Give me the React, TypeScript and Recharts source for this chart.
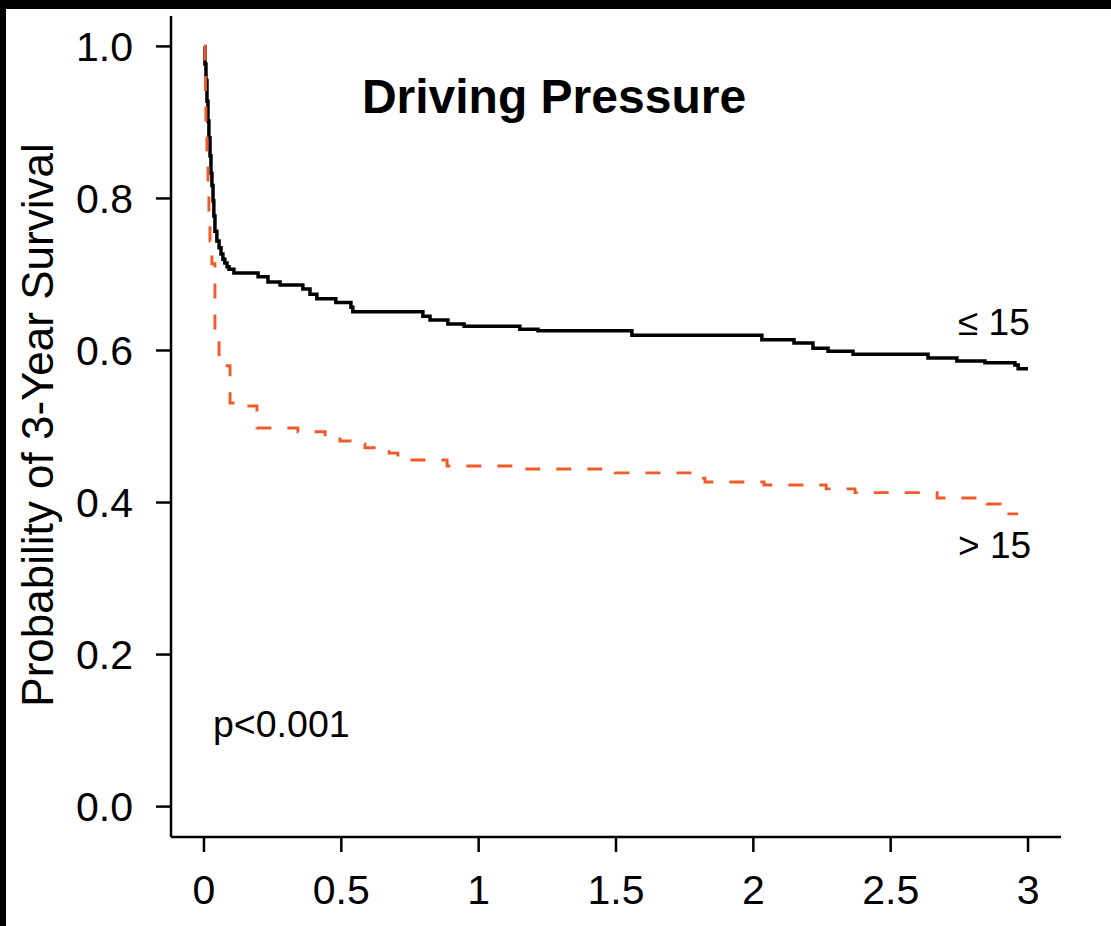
import React from 'react';
import { LineChart, Line, XAxis, YAxis } from 'recharts';

// Kaplan-Meier curves (years, survival probability)
const lowTimes = [0, 0.0036, 0.0073, 0.011, 0.0146, 0.018, 0.022, 0.0255, 0.029, 0.033, 0.036, 0.04, 0.047, 0.055, 0.062, 0.069, 0.076, 0.084, 0.091, 0.109, 0.197, 0.233, 0.277, 0.36, 0.386, 0.411, 0.48, 0.535, 0.542, 0.797, 0.823, 0.888, 0.947, 1.15, 1.216, 1.558, 2.031, 2.148, 2.217, 2.272, 2.363, 2.636, 2.741, 2.843, 2.952, 2.964, 3.0];
const lowSurv = [1.0, 0.977, 0.955, 0.928, 0.902, 0.88, 0.856, 0.833, 0.817, 0.797, 0.777, 0.757, 0.744, 0.735, 0.727, 0.72, 0.715, 0.71, 0.707, 0.702, 0.697, 0.69, 0.686, 0.681, 0.674, 0.668, 0.663, 0.657, 0.651, 0.645, 0.64, 0.635, 0.632, 0.628, 0.626, 0.62, 0.614, 0.61, 0.603, 0.599, 0.595, 0.59, 0.586, 0.584, 0.581, 0.576, 0.576];

const highTimes = [0, 0.0036, 0.0055, 0.0073, 0.011, 0.0146, 0.018, 0.022, 0.029, 0.04, 0.055, 0.066, 0.095, 0.157, 0.193, 0.342, 0.441, 0.495, 0.532, 0.586, 0.674, 0.706, 0.885, 1.15, 1.496, 1.795, 1.824, 2.039, 2.265, 2.37, 2.669, 2.851, 2.898, 2.964];
const highSurv = [1.0, 0.968, 0.928, 0.889, 0.849, 0.803, 0.77, 0.744, 0.714, 0.626, 0.586, 0.58, 0.531, 0.527, 0.498, 0.493, 0.489, 0.481, 0.477, 0.472, 0.465, 0.456, 0.448, 0.444, 0.439, 0.432, 0.427, 0.423, 0.418, 0.413, 0.406, 0.398, 0.385, 0.385];

const xTicks = [0, 0.5, 1, 1.5, 2, 2.5, 3];
const yTicks = [0, 0.2, 0.4, 0.6, 0.8, 1.0];

const lowData = lowTimes.map((t, i) => ({ t, s: lowSurv[i] }));
const highData = highTimes.map((t, i) => ({ t, s: highSurv[i] }));

const FONT = '"Liberation Sans", Arial, Helvetica, sans-serif';
const axisStroke = { stroke: '#000', strokeWidth: 2.5 };

export default function App() {
    return (
        <div style={{ position: 'absolute', left: 0, top: 0, width: 1111, height: 926, background: '#fff', fontFamily: FONT }}>
            <LineChart
                width={1111}
                height={926}
                margin={{ top: 16, right: 50, left: 0, bottom: 0 }}
            >
                <XAxis
                    type="number"
                    dataKey="t"
                    domain={[-0.12, 3.12]}
                    ticks={xTicks}
                    tickFormatter={(v) => String(v)}
                    height={89}
                    tickSize={15}
                    tickMargin={23}
                    axisLine={axisStroke}
                    tickLine={axisStroke}
                    tick={{ fill: '#000', fontSize: 41, fontFamily: FONT }}
                />
                <YAxis
                    type="number"
                    dataKey="s"
                    domain={[-0.04, 1.04]}
                    ticks={yTicks}
                    tickFormatter={(v) => v.toFixed(1)}
                    width={171}
                    tickSize={15}
                    tickMargin={23}
                    axisLine={axisStroke}
                    tickLine={axisStroke}
                    tick={{ fill: '#000', fontSize: 41, fontFamily: FONT }}
                />
                <Line
                    data={lowData}
                    dataKey="s"
                    type="stepAfter"
                    stroke="#000"
                    strokeWidth={3.5}
                    dot={false}
                    activeDot={false}
                    isAnimationActive={false}
                />
                <Line
                    data={highData}
                    dataKey="s"
                    type="stepAfter"
                    stroke="#f05a28"
                    strokeWidth={2.9}
                    strokeDasharray="15 16"
                    dot={false}
                    activeDot={false}
                    isAnimationActive={false}
                />
            </LineChart>

            {/* annotations on top of the plot */}
            <svg width={1111} height={926} style={{ position: 'absolute', left: 0, top: 0, pointerEvents: 'none' }}>
                <text x={554} y={113} textAnchor="middle" fontSize={48} fontWeight="bold" fontFamily={FONT} fill="#000">
                    Driving Pressure
                </text>
                <text x={53} y={425} textAnchor="middle" fontSize={44} fontFamily={FONT} fill="#000" transform="rotate(-90 53 425)">
                    Probability of 3-Year Survival
                </text>
                <text x={958} y={335} fontSize={37} fontFamily={FONT} fill="#000">≤ 15</text>
                <text x={958} y={558} fontSize={37} fontFamily={FONT} fill="#000">&gt; 15</text>
                <text x={213} y={737} fontSize={37.5} fontFamily={FONT} fill="#000">p&lt;0.001</text>
            </svg>

            {/* black frame edges of the scanned figure */}
            <div style={{ position: 'absolute', left: 0, top: 0, width: 1111, height: 9, background: '#000' }} />
            <div style={{ position: 'absolute', left: 0, top: 0, width: 6, height: 926, background: '#000' }} />
        </div>
    );
}
